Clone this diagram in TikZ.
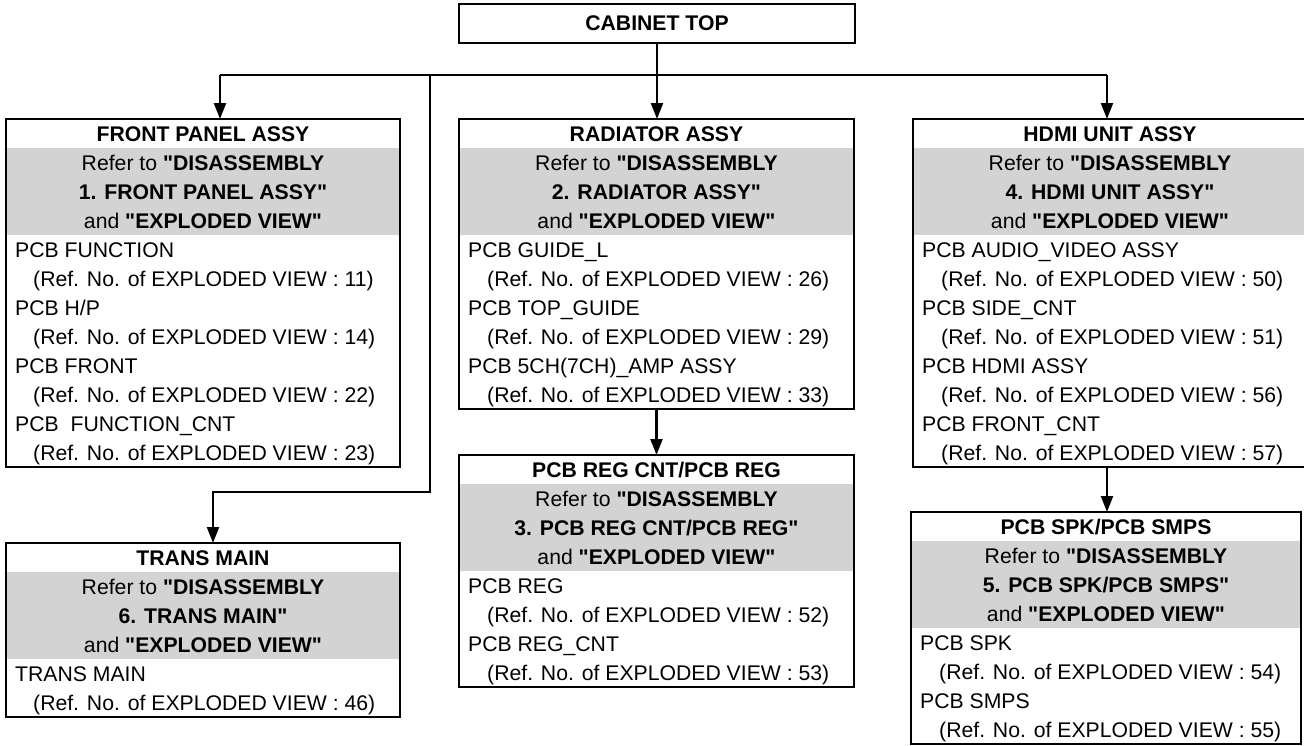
\documentclass[tikz,border=0pt]{standalone}
\usepackage{fontspec}
\setmainfont{Liberation Sans}[Ligatures=TeXOff]
\usetikzlibrary{arrows.meta,calc}
\definecolor{bandgray}{RGB}{211,211,211}
\newcommand\panelbox[5]{%
  \fill[bandgray] (#2,#3+29) rectangle (#2+#4,#3+116);
  \node[panel, minimum width=#4pt, minimum height=#5*29pt] (#1) at (#2,#3) {};
}
\newcommand\crow[3]{\node[txt, anchor=base] (#1r#2) at ([yshift={-(#2*29+22.5)*1pt}]#1.north) {#3};}
\newcommand\lrow[4]{\node[txt, anchor=base west] (#1r#2) at ([xshift=#3pt, yshift={-(#2*29+22.5)*1pt}]#1.north west) {#4};}
\tikzset{
  panel/.style={draw, line width=2.6pt, anchor=north west, inner sep=0pt, outer sep=0pt},
  txt/.style={inner sep=0pt, font=\fontsize{21.2}{25}\selectfont},
  conn/.style={line width=2.2pt},
  arr/.style={conn, -{Triangle[length=16pt,width=12pt]}},
}
\begin{document}
\begin{tikzpicture}[x=1pt,y=-1pt]
\useasboundingbox (0,0) rectangle (1304,745);

% CABINET TOP
\node[draw, line width=2.6pt, minimum width=396pt, minimum height=39pt, inner sep=0pt, font=\fontsize{21.2}{25}\selectfont\bfseries] (cab) at (657,23.5) {CABINET TOP};

% FRONT PANEL ASSY
\panelbox{front}{6}{119}{394}{12}
\crow{front}{0}{\bfseries FRONT PANEL ASSY}
\crow{front}{1}{Refer to \textbf{"DISASSEMBLY}}
\crow{front}{2}{\bfseries 1. FRONT PANEL ASSY"}
\crow{front}{3}{and \textbf{"EXPLODED VIEW"}}
\lrow{front}{4}{9}{PCB FUNCTION}
\lrow{front}{5}{27}{(Ref. No. of EXPLODED VIEW : 11)}
\lrow{front}{6}{9}{PCB H/P}
\lrow{front}{7}{27}{(Ref. No. of EXPLODED VIEW : 14)}
\lrow{front}{8}{9}{PCB FRONT}
\lrow{front}{9}{27}{(Ref. No. of EXPLODED VIEW : 22)}
\lrow{front}{10}{9}{PCB\ \ FUNCTION\_CNT}
\lrow{front}{11}{27}{(Ref. No. of EXPLODED VIEW : 23)}

% RADIATOR ASSY
\panelbox{rad}{459}{119}{395}{10}
\crow{rad}{0}{\bfseries RADIATOR ASSY}
\crow{rad}{1}{Refer to \textbf{"DISASSEMBLY}}
\crow{rad}{2}{\bfseries 2. RADIATOR ASSY"}
\crow{rad}{3}{and \textbf{"EXPLODED VIEW"}}
\lrow{rad}{4}{9}{PCB GUIDE\_L}
\lrow{rad}{5}{28}{(Ref. No. of EXPLODED VIEW : 26)}
\lrow{rad}{6}{9}{PCB TOP\_GUIDE}
\lrow{rad}{7}{28}{(Ref. No. of EXPLODED VIEW : 29)}
\lrow{rad}{8}{9}{PCB 5CH(7CH)\_AMP ASSY}
\lrow{rad}{9}{28}{(Ref. No. of EXPLODED VIEW : 33)}

% HDMI UNIT ASSY
\panelbox{hdmi}{913}{119}{394}{12}
\crow{hdmi}{0}{\bfseries HDMI UNIT ASSY}
\crow{hdmi}{1}{Refer to \textbf{"DISASSEMBLY}}
\crow{hdmi}{2}{\bfseries 4. HDMI UNIT ASSY"}
\crow{hdmi}{3}{and \textbf{"EXPLODED VIEW"}}
\lrow{hdmi}{4}{9}{PCB AUDIO\_VIDEO ASSY}
\lrow{hdmi}{5}{28}{(Ref. No. of EXPLODED VIEW : 50)}
\lrow{hdmi}{6}{9}{PCB SIDE\_CNT}
\lrow{hdmi}{7}{28}{(Ref. No. of EXPLODED VIEW : 51)}
\lrow{hdmi}{8}{9}{PCB HDMI ASSY}
\lrow{hdmi}{9}{28}{(Ref. No. of EXPLODED VIEW : 56)}
\lrow{hdmi}{10}{9}{PCB FRONT\_CNT}
\lrow{hdmi}{11}{28}{(Ref. No. of EXPLODED VIEW : 57)}

% PCB REG CNT/PCB REG
\panelbox{reg}{459}{455}{395}{8}
\crow{reg}{0}{\bfseries PCB REG CNT/PCB REG}
\crow{reg}{1}{Refer to \textbf{"DISASSEMBLY}}
\crow{reg}{2}{\bfseries 3. PCB REG CNT/PCB REG"}
\crow{reg}{3}{and \textbf{"EXPLODED VIEW"}}
\lrow{reg}{4}{9}{PCB REG}
\lrow{reg}{5}{28}{(Ref. No. of EXPLODED VIEW : 52)}
\lrow{reg}{6}{9}{PCB REG\_CNT}
\lrow{reg}{7}{28}{(Ref. No. of EXPLODED VIEW : 53)}

% PCB SPK/PCB SMPS
\panelbox{spk}{911}{512}{390}{8}
\crow{spk}{0}{\bfseries PCB SPK/PCB SMPS}
\crow{spk}{1}{Refer to \textbf{"DISASSEMBLY}}
\crow{spk}{2}{\bfseries 5. PCB SPK/PCB SMPS"}
\crow{spk}{3}{and \textbf{"EXPLODED VIEW"}}
\lrow{spk}{4}{9}{PCB SPK}
\lrow{spk}{5}{28}{(Ref. No. of EXPLODED VIEW : 54)}
\lrow{spk}{6}{9}{PCB SMPS}
\lrow{spk}{7}{28}{(Ref. No. of EXPLODED VIEW : 55)}

% TRANS MAIN
\panelbox{trans}{6}{543}{394}{6}
\crow{trans}{0}{\bfseries TRANS MAIN}
\crow{trans}{1}{Refer to \textbf{"DISASSEMBLY}}
\crow{trans}{2}{\bfseries 6. TRANS MAIN"}
\crow{trans}{3}{and \textbf{"EXPLODED VIEW"}}
\lrow{trans}{4}{9}{TRANS MAIN}
\lrow{trans}{5}{27}{(Ref. No. of EXPLODED VIEW : 46)}

% connectors
\coordinate (hl) at (220,75);
\coordinate (hr) at (1107,75);
\coordinate (hv) at (430,75);
\coordinate (tb) at (430,492);
\coordinate (tt) at (213,492);
\draw[conn] (hl) -- (hr);
\draw[arr] (cab.south) -- (cab.south |- rad.north);
\draw[arr] (hl) -- (hl |- front.north);
\draw[arr] (hr) -- (hr |- hdmi.north);
\draw[arr] (hv) -- (tb) -- (tt) -- (tt |- trans.north);
\draw[arr] (rad.south) -- (reg.north);
\draw[arr] (hr |- hdmi.south) -- (hr |- spk.north);
\end{tikzpicture}
\end{document}
